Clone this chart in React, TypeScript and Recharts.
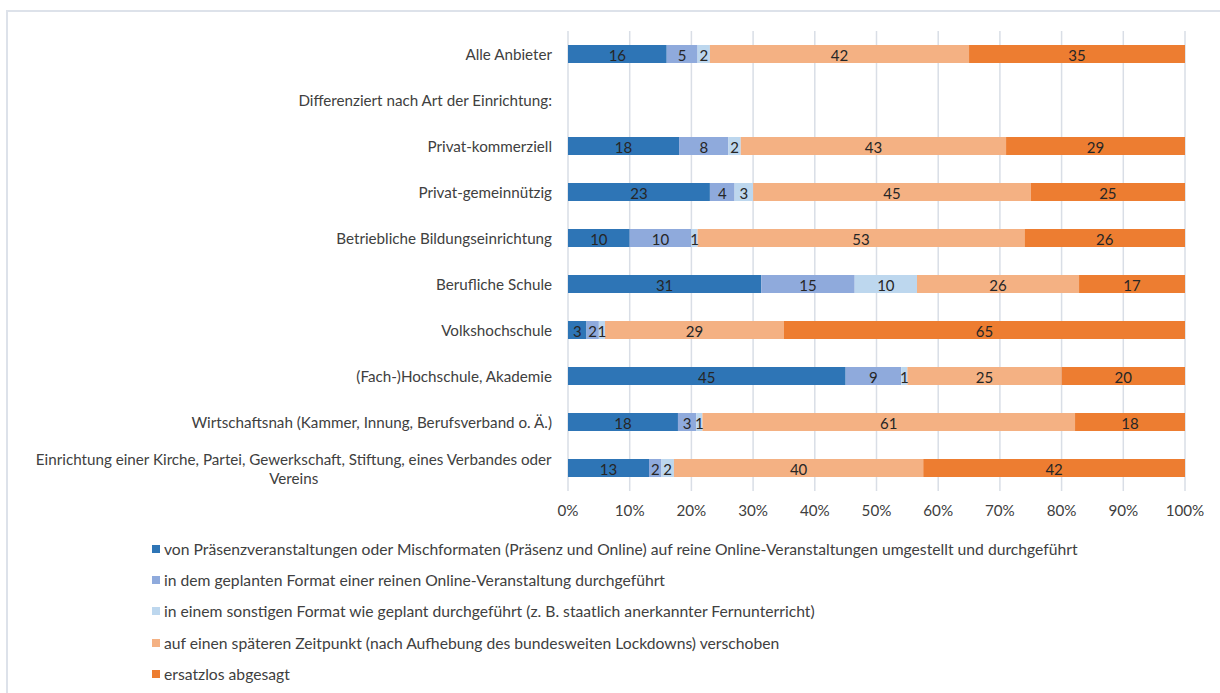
import { BarChart, Bar, XAxis, YAxis, CartesianGrid, LabelList } from "recharts";

const categories = [
  "Alle Anbieter",
  "Differenziert nach Art der Einrichtung:",
  "Privat-kommerziell",
  "Privat-gemeinnützig",
  "Betriebliche Bildungseinrichtung",
  "Berufliche Schule",
  "Volkshochschule",
  "(Fach-)Hochschule, Akademie",
  "Wirtschaftsnah (Kammer, Innung, Berufsverband o. Ä.)",
  "Einrichtung einer Kirche, Partei, Gewerkschaft, Stiftung, eines Verbandes oder Vereins",
];

const umgestellt = [16, null, 18, 23, 10, 31, 3, 45, 18, 13];
const geplantOnline = [5, null, 8, 4, 10, 15, 2, 9, 3, 2];
const sonstiges = [2, null, 2, 3, 1, 10, 1, 1, 1, 2];
const verschoben = [42, null, 43, 45, 53, 26, 29, 25, 61, 40];
const abgesagt = [35, null, 29, 25, 26, 17, 65, 20, 18, 42];

const percentTicks = [0, 0.1, 0.2, 0.3, 0.4, 0.5, 0.6, 0.7, 0.8, 0.9, 1];

const series = [
  { key: "umgestellt", color: "#2e75b6", name: "von Präsenzveranstaltungen oder Mischformaten (Präsenz und Online) auf reine Online-Veranstaltungen umgestellt und durchgeführt" },
  { key: "geplantOnline", color: "#8faadc", name: "in dem geplanten Format einer reinen Online-Veranstaltung durchgeführt" },
  { key: "sonstiges", color: "#bdd7ee", name: "in einem sonstigen Format wie geplant durchgeführt (z. B. staatlich anerkannter Fernunterricht)" },
  { key: "verschoben", color: "#f4b183", name: "auf einen späteren Zeitpunkt (nach Aufhebung des bundesweiten Lockdowns) verschoben" },
  { key: "abgesagt", color: "#ed7d31", name: "ersatzlos abgesagt" },
];

const data = categories.map((name, i) => ({
  name,
  umgestellt: umgestellt[i],
  geplantOnline: geplantOnline[i],
  sonstiges: sonstiges[i],
  verschoben: verschoben[i],
  abgesagt: abgesagt[i],
}));

const FONT = "Lato, 'Open Sans', sans-serif";
const AXIS_SIZE = 15.2;
const TEXT = "#404040";

let ctx: CanvasRenderingContext2D | null = null;
function measure(text: string, size: number) {
  if (!ctx) ctx = document.createElement("canvas").getContext("2d");
  if (!ctx) return text.length * size * 0.5;
  ctx.font = `${size}px Lato`;
  return ctx.measureText(text).width;
}

function wrap(text: string, maxWidth: number, size: number) {
  const words = text.split(" ");
  const lines: string[] = [];
  let cur = "";
  for (const w of words) {
    const next = cur ? cur + " " + w : w;
    if (cur && measure(next, size) > maxWidth) {
      lines.push(cur);
      cur = w;
    } else {
      cur = next;
    }
  }
  if (cur) lines.push(cur);
  return lines;
}

function CategoryTick(props: any) {
  const { x, y, payload } = props;
  const lines = wrap(payload.value, 545, AXIS_SIZE);
  const maxW = Math.max(...lines.map((l) => measure(l, AXIS_SIZE)));
  const lh = 19;
  const top = y - ((lines.length - 1) * lh) / 2;
  return (
    <g>
      {lines.map((l, i) => (
        <text
          key={i}
          x={lines.length > 1 ? x - maxW / 2 : x}
          y={top + i * lh}
          textAnchor={lines.length > 1 ? "middle" : "end"}
          dominantBaseline="central"
          fontSize={AXIS_SIZE}
          fontFamily={FONT}
          fill={TEXT}
        >
          {l}
        </text>
      ))}
    </g>
  );
}

function SegmentLabel(props: any) {
  const { x, y, width, height, value } = props;
  if (value === null || value === undefined || value === 0) return null;
  return (
    <text
      x={x + width / 2}
      y={y + height / 2 + 1}
      textAnchor="middle"
      dominantBaseline="central"
      fontSize={15}
      fontFamily={FONT}
      fill="#262626"
    >
      {value}
    </text>
  );
}

function LegendBox() {
  return (
    <div style={{ position: "absolute", left: 152, top: 533, fontFamily: FONT, fontSize: 15.7, color: TEXT }}>
      {series.map((s) => (
        <div key={s.key} style={{ display: "flex", alignItems: "center", height: 31.3, whiteSpace: "nowrap" }}>
          <span style={{ width: 8, height: 8, background: s.color, marginRight: 4, display: "inline-block" }} />
          <span>{s.name}</span>
        </div>
      ))}
    </div>
  );
}

export default function App() {
  return (
    <div style={{ position: "absolute", left: 0, top: 0, width: 1220, height: 693, background: "#fff", overflow: "hidden" }}>
      <div
        style={{
          position: "absolute",
          left: 6,
          top: 10,
          width: 1220,
          height: 700,
          borderTop: "2px solid #dde2ea",
          borderLeft: "2px solid #dde2ea",
        }}
      />
      <BarChart
        width={1220}
        height={693}
        data={data}
        layout="vertical"
        stackOffset="expand"
        margin={{ top: 31, right: 35, bottom: 172, left: 0 }}
        barSize={18}
        style={{ position: "absolute", left: 0, top: 0 }}
      >
        <CartesianGrid horizontal={false} stroke="#d9dee6" strokeWidth={1.5} />
        <XAxis
          type="number"
          domain={[0, 1]}
          ticks={percentTicks}
          tickFormatter={(v: number) => `${Math.round(v * 100)}%`}
          axisLine={false}
          tickLine={false}
          tickMargin={8}
          height={30}
          tick={{ fontSize: AXIS_SIZE, fontFamily: FONT, fill: TEXT }}
        />
        <YAxis
          type="category"
          dataKey="name"
          width={568}
          axisLine={false}
          tickLine={false}
          tickMargin={10}
          interval={0}
          tick={<CategoryTick />}
        />
        {series.map((s) => (
          <Bar key={s.key} dataKey={s.key} name={s.name} stackId="a" fill={s.color} isAnimationActive={false}>
            <LabelList dataKey={s.key} content={<SegmentLabel />} />
          </Bar>
        ))}
      </BarChart>
      <LegendBox />
    </div>
  );
}
